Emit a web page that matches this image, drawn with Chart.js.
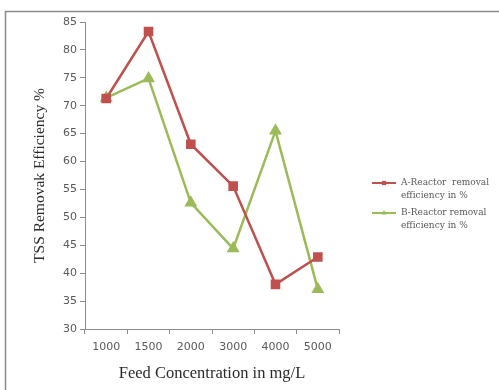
<!DOCTYPE html>
<html>
<head>
<meta charset="utf-8">
<script src="https://cdn.jsdelivr.net/npm/chart.js@4.4.0/dist/chart.umd.min.js"></script>
<style>
  body { margin: 0; background: #fff; }
</style>
</head>
<body>
<canvas id="grafico" width="499" height="390"></canvas>
<script>
var concentraciones = ['1000', '1500', '2000', '3000', '4000', '5000'];
var reactorA = [71.3, 83.3, 63.1, 55.6, 38.0, 42.9];
var reactorB = [71.4, 74.9, 52.6, 44.4, 65.5, 37.1];
var leyendaA = ['A-Reactor  removal', 'efficiency in %'];
var leyendaB = ['B-Reactor removal', 'efficiency in %'];

var rojo = '#c0504d';
var verde = '#9bbb59';
var gris = '#595959';

// marco gris alrededor de todo
var marco = {
  id: 'marco',
  beforeDraw: function (chart) {
    var ctx = chart.ctx;
    ctx.save();
    ctx.strokeStyle = '#8a8a8a';
    ctx.lineWidth = 1.5;
    ctx.strokeRect(5.5, 11.5, 600, 500);
    ctx.restore();
  }
};

// leyenda a mano porque los textos van en dos lineas
var leyenda = {
  id: 'leyenda',
  afterDraw: function (chart) {
    var ctx = chart.ctx;
    var textos = [leyendaA, leyendaB];
    var ys = [183, 213];
    ctx.save();
    chart.data.datasets.forEach(function (ds, i) {
      var y = ys[i];
      ctx.strokeStyle = ds.borderColor;
      ctx.lineWidth = 2;
      ctx.beginPath();
      ctx.moveTo(372, y);
      ctx.lineTo(396, y);
      ctx.stroke();
      ctx.fillStyle = ds.pointBackgroundColor;
      Chart.helpers.drawPoint(ctx, { pointStyle: ds.pointStyle, radius: 3, borderWidth: 0 }, 384, y);
      ctx.fillStyle = gris;
      ctx.font = '9px "DejaVu Serif"';
      ctx.textBaseline = 'middle';
      ctx.fillText(textos[i][0], 401, y);
      ctx.fillText(textos[i][1], 401, y + 13);
    });
    ctx.restore();
  }
};

var ctx = document.getElementById('grafico').getContext('2d');
var grafico = new Chart(ctx, {
  type: 'line',
  data: {
    labels: concentraciones,
    datasets: [{
        label: 'A-Reactor removal efficiency in %',
        data: reactorA,
        borderColor: rojo,
        backgroundColor: rojo,
        pointBackgroundColor: rojo,
        pointBorderColor: rojo,
        pointStyle: 'rect',
        pointRadius: 5,
        borderWidth: 2.5,
        tension: 0
      },
      {
        label: 'B-Reactor removal efficiency in %',
        data: reactorB,
        borderColor: verde,
        backgroundColor: verde,
        pointBackgroundColor: verde,
        pointBorderColor: verde,
        pointStyle: 'triangle',
        pointRadius: 5,
        borderWidth: 2.5,
        tension: 0
      }
    ]
  },
  options: {
    responsive: false,
    animation: false,
    layout: {
      padding: { top: 22, right: 160, bottom: 0, left: 20 }
    },
    plugins: {
      legend: { display: false },
      tooltip: { enabled: false }
    },
    scales: {
      x: {
        type: 'category',
        offset: true,
        grid: {
          display: true,
          drawOnChartArea: false,
          offset: true,
          tickLength: 5,
          color: '#8c8c8c'
        },
        border: { color: '#8c8c8c' },
        ticks: {
          color: gris,
          padding: 7,
          font: { family: '"DejaVu Sans"', size: 11 }
        },
        title: {
          display: true,
          text: 'Feed Concentration in mg/L',
          color: '#2b2b2b',
          padding: { top: 0, bottom: 6 },
          font: { family: '"Liberation Serif"', size: 16.5 }
        },
        afterFit: function (scale) {
          scale.height = 61;
        }
      },
      y: {
        min: 30,
        max: 85,
        ticks: {
          stepSize: 5,
          color: gris,
          padding: 3,
          font: { family: '"DejaVu Sans"', size: 11 }
        },
        grid: {
          display: true,
          drawOnChartArea: false,
          tickLength: 5,
          color: '#8c8c8c'
        },
        border: { color: '#8c8c8c' },
        title: {
          display: true,
          text: 'TSS Removak Efficiency %',
          color: '#2b2b2b',
          padding: { top: 11, bottom: 0 },
          font: { family: '"Liberation Serif"', size: 15.5 }
        },
        afterFit: function (scale) {
          scale.width = 65;
        }
      }
    }
  },
  plugins: [marco, leyenda]
});
</script>
</body>
</html>
